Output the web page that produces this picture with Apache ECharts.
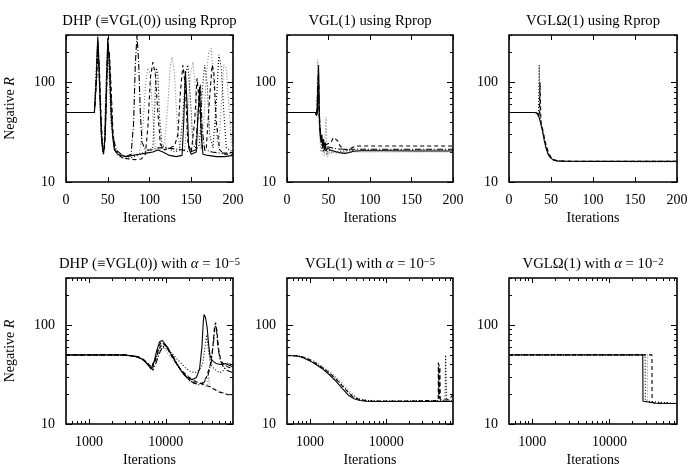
<!DOCTYPE html>
<html>
<head>
<meta charset="utf-8">
<script src="https://cdn.jsdelivr.net/npm/echarts@6/dist/echarts.min.js"></script>
<style>
  html, body { margin: 0; padding: 0; background: #fff; }
  #chart { width: 689px; height: 468px; }
</style>
</head>
<body>
<div id="chart"></div>
<script>
// ---- data: [iteration, negative R] ----
const rpDhpSolid = [[0,50],[34,50],[35,49],[36,90],[38,290],[39,200],[41,60],[43,25],[45,19],[47,30],[49,120],[50,280],[52,150],[54,50],[56,28],[58,21],[62,19],[66,18.5],[72,18],[80,18.5],[88,19],[96,19.5],[104,20],[110,21],[116,20],[124,18.5],[132,18],[139,18.5],[141,40],[143,130],[145,60],[147,22],[150,19],[156,20],[158,45],[160,90],[162,30],[164,19],[170,18.5],[180,18],[190,18],[200,18.5]];
const rpDhpDashDot = [[0,50],[34,50],[35,48],[37,150],[38,260],[40,120],[42,35],[44,20],[46,22],[48,70],[50,250],[52,180],[54,70],[56,30],[60,21],[66,19],[72,18],[78,19],[81,40],[83,150],[85,300],[87,160],[89,50],[91,25],[95,21],[102,21],[110,22],[120,22],[130,21.5],[140,21],[148,20],[155,21],[159,60],[161,95],[163,35],[166,21],[175,20],[185,19.5],[200,19.5]];
const rpDhpDashed = [[0,50],[34,50],[35,49],[37,120],[38,240],[40,140],[42,45],[44,22],[46,21],[48,50],[50,220],[52,200],[54,90],[56,35],[58,22],[62,19],[68,17.5],[75,17],[82,16.8],[90,17],[95,19],[98,35],[101,110],[104,160],[107,120],[110,50],[113,24],[118,21],[124,22],[130,23],[134,30],[137,80],[140,150],[143,90],[146,25],[150,20],[154,40],[157,110],[160,60],[163,22],[168,22],[172,70],[175,150],[177,130],[180,40],[184,21],[190,19],[200,19]];
const rpDhpGrey = [[0,50],[34,50],[35,48],[37,200],[38,270],[40,100],[42,30],[44,19],[46,23],[48,90],[50,260],[52,130],[54,40],[58,22],[64,19],[72,18],[80,18.5],[88,19.5],[92,35],[95,90],[98,140],[101,120],[104,45],[107,22],[112,21],[118,24],[122,60],[125,150],[127,180],[130,120],[133,40],[136,22],[142,21],[146,50],[149,120],[152,160],[155,90],[158,30],[162,21],[165,40],[168,120],[171,200],[174,220],[177,100],[180,30],[183,22],[186,60],[189,150],[192,140],[195,60],[198,25],[200,21]];
const rpDhpDotted = [[0,50],[34,50],[35,49],[37,180],[38,250],[40,90],[42,30],[44,20],[46,26],[48,100],[50,240],[52,110],[54,40],[58,21],[64,18],[70,17.2],[78,17.5],[86,18.5],[94,20],[100,21],[104,22],[106,50],[108,140],[110,120],[112,45],[115,23],[122,22],[130,20],[136,21],[140,45],[143,120],[146,150],[149,70],[152,24],[156,21],[160,24],[163,80],[166,150],[169,100],[172,30],[176,22],[180,60],[183,190],[186,140],[189,50],[192,22],[200,20]];

const rpVglSolid = [[0,50],[34,50],[35,49.5],[36,47],[37,60],[38,150],[39,45],[40,30],[41,25],[42,30],[43,22],[44,27],[45,21],[46,25],[47,20.5],[49,22],[52,21],[56,20.5],[60,20],[65,19.6],[70,19.4],[75,19.8],[80,20.4],[90,20.6],[120,20.6],[160,20.5],[200,20.5]];
const rpVglDashed = [[0,50],[34,50],[35,49],[36,46],[37,80],[38,110],[39,40],[40,32],[42,26],[44,23],[46,22],[48,24],[50,23],[53,25],[56,28],[58,29],[61,26],[64,23],[68,21.5],[72,21],[76,21.5],[80,22.5],[84,23],[100,23],[150,23],[200,23]];
const rpVglGrey = [[0,50],[34,50],[35,49],[36,47],[37,170],[38,90],[39,35],[40,24],[41,20],[42,26],[43,19],[44,24],[45,18.5],[46,30],[47,45],[48,22],[49,18],[50,20],[52,19],[55,20],[60,19.5],[70,19.5],[80,20],[120,20],[200,20]];
const rpVglDashDot = [[0,50],[34,50],[35,49],[36,47],[37,100],[38,130],[39,50],[40,34],[41,28],[43,25],[45,23],[47,22],[50,22.5],[55,22],[60,21.5],[70,21.3],[100,21.3],[200,21.3]];
const rpVglDotted = [[0,50],[34,50],[35,49],[36,47],[37,90],[38,60],[40,28],[42,23],[44,20],[46,22],[48,19],[50,21],[54,20],[60,20.2],[80,20.8],[120,21],[200,21]];

const rpOmegaSolid = [[0,50],[30,50],[33,49.5],[35,47],[36,44],[38,38],[40,32],[42,26],[44,22],[46,19.5],[48,18],[50,17.2],[53,16.6],[57,16.3],[65,16.2],[100,16.1],[200,16.1]];
const rpOmegaDotted = [[0,50],[30,50],[33,49],[35,46],[35.5,80],[36,150],[36.5,70],[37,45],[38,42],[39,36],[40,34],[41,30],[42,28],[43,25],[44,23],[45,21.5],[47,19],[49,17.8],[52,16.8],[56,16.3],[65,16.1],[200,16]];
const rpOmegaDashed = [[0,50],[30,50],[34,48.5],[36,45],[37,100],[37.5,60],[38,40],[40,34],[42,28],[44,24],[46,21],[48,19],[50,17.7],[54,16.7],[60,16.2],[200,16.1]];

const a5DhpSolid = [[500,50],[1000,50],[2000,50],[3000,49.8],[4000,48.5],[5000,45],[5800,40],[6400,36],[7000,42],[7600,55],[8300,68],[9000,70],[10000,63],[11500,52],[13500,42],[16000,34],[19000,29.5],[22000,28],[25000,29.5],[27500,36],[29500,60],[30800,110],[31500,128],[33000,118],[34500,95],[36000,65],[37500,50],[40000,44],[45000,41],[52000,40],[60000,41],[68000,39],[75000,38]];
const a5DhpDashed = [[500,50],[3000,49.8],[4000,48.6],[5000,45.5],[6000,39],[6700,36.5],[7400,45],[8200,58],[9000,65],[10000,62],[12000,50],[14000,40],[17000,32],[21000,27],[25000,25.5],[30000,26],[34000,30],[38000,40],[41000,60],[43000,95],[44500,106],[46500,85],[49000,55],[52000,44],[57000,40],[63000,38],[70000,37],[75000,36]];
const a5DhpDashDot = [[500,50],[3000,49.8],[4200,48],[5200,44],[6200,38],[6800,35],[7500,42],[8500,55],[9500,62],[10500,60],[12500,48],[15000,37],[19000,29],[23000,26],[27000,25],[31000,26],[35000,30],[39000,42],[42000,70],[44000,100],[45500,95],[47500,62],[51000,44],[56000,38],[62000,35],[68000,34],[75000,33]];
const a5DhpGrey = [[500,50],[3000,49.8],[4300,48],[5300,44.5],[6300,39],[7000,43],[7800,54],[8600,62],[9600,58],[11000,50],[13000,42],[16000,35],[20000,30],[25000,27],[30000,25],[34000,24],[36000,24],[36500,30],[37000,24.5],[39000,23],[42000,22.5],[46000,22],[52000,21.2],[58000,20.5],[65000,20],[75000,19.5]];
const a5DhpDotted = [[500,50],[3000,49.8],[4500,47.5],[5600,42],[6500,37],[7300,44],[8200,56],[9200,60],[10500,57],[12500,50],[15000,43],[18000,37],[21000,34],[24000,33],[27000,35],[30000,40],[32000,55],[34000,80],[35500,60],[37500,44],[40000,38],[45000,35],[50000,33],[55000,34],[60000,38],[65000,42],[70000,40],[75000,40]];
const a5DhpLower = [[500,50],[3000,49.8],[4500,47.5],[5500,43],[6500,37.5],[7300,46],[8000,60],[8800,68],[10000,62],[12000,48],[15000,37],[19000,30.5],[24000,27],[29000,25.5],[33000,24.5],[37000,24],[40000,23],[45000,22],[50000,21],[56000,20.5],[62000,20],[68000,19.6],[75000,19.3]];

const a5VglSolid = [[500,49],[600,49],[700,48.5],[800,47],[1000,43.5],[1200,40],[1500,35.5],[1800,31.5],[2200,27],[2700,22.5],[3200,19.5],[3800,18],[4500,17.3],[5500,17],[8000,16.9],[20000,16.9],[40000,16.9],[60000,17],[75000,16.9]];
const a5VglGrey = [[500,49.5],[700,49],[900,47],[1100,44],[1400,39],[1800,34],[2300,29],[2900,24],[3500,20.5],[4200,18.5],[5000,17.5],[7000,17.1],[20000,17.3],[30000,17.2],[75000,17.2]];
const a5VglDashed = [[500,49.5],[700,48.8],[900,46.5],[1100,43],[1400,38],[1800,33],[2300,27.5],[2900,22.5],[3600,19],[4500,17.6],[6000,17.1],[20000,17.1],[45000,17.3],[48000,17.5],[48200,42],[48700,18],[49300,40],[49900,18],[50500,38],[51100,17.8],[56000,17.6],[62000,17.5],[68000,18],[72000,19],[75000,19.8]];
const a5VglDotted = [[500,49.5],[700,49],[1000,44],[1500,36.5],[2000,30.5],[2600,25],[3300,20.5],[4000,18.3],[5000,17.4],[8000,17.1],[20000,17.1],[55000,17.2],[59000,17.5],[60000,50],[61000,48],[62000,18],[66000,17.5],[75000,17.2]];

const a2OmegaSolid = [[500,50],[27000,50],[27200,17],[28000,16.4],[40000,16.2],[75000,16.1]];
const a2OmegaDashed = [[500,50],[35500,50],[35700,16.6],[38000,16.3],[75000,16.1]];
const a2OmegaDotted = [[500,50],[29000,50],[29200,17],[30000,16.5],[75000,16.1]];
const a2OmegaGrey = [[500,50],[31000,50],[31200,17],[32000,16.5],[75000,16.1]];

// tick values
const yMajor = [10, 100];
const yMinor = [20, 30, 40, 50, 60, 70, 80, 90, 200, 300];
const xLogMajor = [1000, 10000];
const xLogMinor = [600, 700, 800, 900, 2000, 3000, 4000, 5000, 6000, 7000, 8000, 9000, 20000, 30000, 40000, 50000, 60000, 70000];

const FONT = "'Liberation Serif', 'DejaVu Serif', serif";
const LINE = {
    solid: { type: 'solid', color: '#000' },
    dashed: { type: [4, 3], color: '#000' },
    dotted: { type: [1, 2], color: '#000' },
    grey: { type: [1, 2], color: '#808080' },
    dashdot: { type: [6, 2, 1, 2], color: '#000' }
};
const RICH = {
    i: { fontFamily: FONT, fontSize: 14.7, fontStyle: 'italic', color: '#000' },
    sup: { fontFamily: FONT, fontSize: 10.5, verticalAlign: 'top', color: '#000' }
};
const RICH_NAME = {
    i: { fontFamily: FONT, fontSize: 14, fontStyle: 'italic', color: '#000' }
};

const panels = [
    { title: 'DHP (≡VGL(0)) using Rprop', left: 66, top: 35, width: 167, height: 147, logX: false,
      lines: [[rpDhpGrey, 'grey'], [rpDhpDotted, 'dotted'], [rpDhpDashed, 'dashed'], [rpDhpDashDot, 'dashdot'], [rpDhpSolid, 'solid']] },
    { title: 'VGL(1) using Rprop', left: 287, top: 35, width: 166, height: 147, logX: false,
      lines: [[rpVglGrey, 'grey'], [rpVglDotted, 'dotted'], [rpVglDashed, 'dashed'], [rpVglDashDot, 'dashdot'], [rpVglSolid, 'solid']] },
    { title: 'VGLΩ(1) using Rprop', left: 509, top: 35, width: 168, height: 147, logX: false,
      lines: [[rpOmegaDotted, 'dotted'], [rpOmegaDashed, 'dashed'], [rpOmegaSolid, 'solid']] },
    { title: 'DHP (≡VGL(0)) with {i|α} = 10{sup|−5}', left: 66, top: 278, width: 167, height: 146, logX: true,
      lines: [[a5DhpGrey, 'grey'], [a5DhpDotted, 'dotted'], [a5DhpLower, 'dashed'], [a5DhpDashed, 'dashed'], [a5DhpDashDot, 'dashdot'], [a5DhpSolid, 'solid']] },
    { title: 'VGL(1) with {i|α} = 10{sup|−5}', left: 287, top: 278, width: 166, height: 146, logX: true,
      lines: [[a5VglGrey, 'grey'], [a5VglDotted, 'dotted'], [a5VglDashed, 'dashed'], [a5VglSolid, 'solid']] },
    { title: 'VGLΩ(1) with {i|α} = 10{sup|−2}', left: 509, top: 278, width: 168, height: 146, logX: true,
      lines: [[a2OmegaGrey, 'grey'], [a2OmegaDotted, 'dotted'], [a2OmegaDashed, 'dashed'], [a2OmegaSolid, 'solid']] }
];

const grid = [], xAxis = [], yAxis = [], series = [], title = [];
const tick = (len, vals) => ({ inside: true, length: len, customValues: vals, lineStyle: { color: '#000', width: 1 } });
const label = (show, vals) => ({
    show: show, customValues: vals, fontFamily: FONT, fontSize: 14, color: '#000', margin: 11,
    formatter: v => String(Math.round(v))
});

panels.forEach((p, gi) => {
    grid.push({ left: p.left, top: p.top, width: p.width, height: p.height, show: true,
        borderColor: '#000', borderWidth: 1.6, backgroundColor: 'transparent', outerBoundsMode: 'none' });
    title.push({ text: p.title, left: p.left + p.width / 2, top: p.top - 21, textAlign: 'center', padding: 0,
        textStyle: { fontFamily: FONT, fontSize: 14.7, fontWeight: 'normal', color: '#000', rich: RICH } });

    const xBase = p.logX
        ? { gridIndex: gi, type: 'log', min: 500, max: 75000 }
        : { gridIndex: gi, type: 'value', min: 0, max: 200, interval: 50 };
    Object.assign(xBase, { axisLine: { show: false }, splitLine: { show: false }, nameMoveOverlap: false });
    const xMain = xAxis.length;
    xAxis.push(Object.assign({}, xBase, {
        position: 'bottom',
        axisTick: tick(5, p.logX ? xLogMajor : undefined),
        axisLabel: label(true, p.logX ? xLogMajor : undefined),
        name: 'Iterations', nameLocation: 'middle', nameGap: 29,
        nameTextStyle: { fontFamily: FONT, fontSize: 14, color: '#000' }
    }));
    xAxis.push(Object.assign({}, xBase, { position: 'top', axisTick: tick(5, p.logX ? xLogMajor : undefined), axisLabel: { show: false } }));
    if (p.logX) {
        xAxis.push(Object.assign({}, xBase, { position: 'bottom', axisTick: tick(3, xLogMinor), axisLabel: { show: false } }));
        xAxis.push(Object.assign({}, xBase, { position: 'top', axisTick: tick(3, xLogMinor), axisLabel: { show: false } }));
    }

    const yBase = { gridIndex: gi, type: 'log', min: 10, max: 300, axisLine: { show: false }, splitLine: { show: false }, nameMoveOverlap: false };
    const yMain = yAxis.length;
    const yLeft = Object.assign({}, yBase, { position: 'left', axisTick: tick(6, yMajor), axisLabel: label(true, yMajor) });
    if (gi % 3 === 0) {
        Object.assign(yLeft, { name: 'Negative {i|R}', nameLocation: 'middle', nameGap: 49,
            nameTextStyle: { fontFamily: FONT, fontSize: 14, color: '#000', rich: RICH_NAME } });
    }
    yAxis.push(yLeft);
    yAxis.push(Object.assign({}, yBase, { position: 'left', axisTick: tick(3, yMinor), axisLabel: { show: false } }));
    yAxis.push(Object.assign({}, yBase, { position: 'right', axisTick: tick(6, yMajor), axisLabel: { show: false } }));
    yAxis.push(Object.assign({}, yBase, { position: 'right', axisTick: tick(3, yMinor), axisLabel: { show: false } }));

    p.lines.forEach(([data, style]) => {
        series.push({
            type: 'line', xAxisIndex: xMain, yAxisIndex: yMain, data: data,
            symbol: 'none', silent: true,
            lineStyle: { width: 1.1, color: LINE[style].color, type: LINE[style].type }
        });
    });
});

const chart = echarts.init(document.getElementById('chart'));
chart.setOption({
    animation: false,
    backgroundColor: '#fff',
    title: title,
    grid: grid,
    xAxis: xAxis,
    yAxis: yAxis,
    series: series
});
</script>
</body>
</html>
